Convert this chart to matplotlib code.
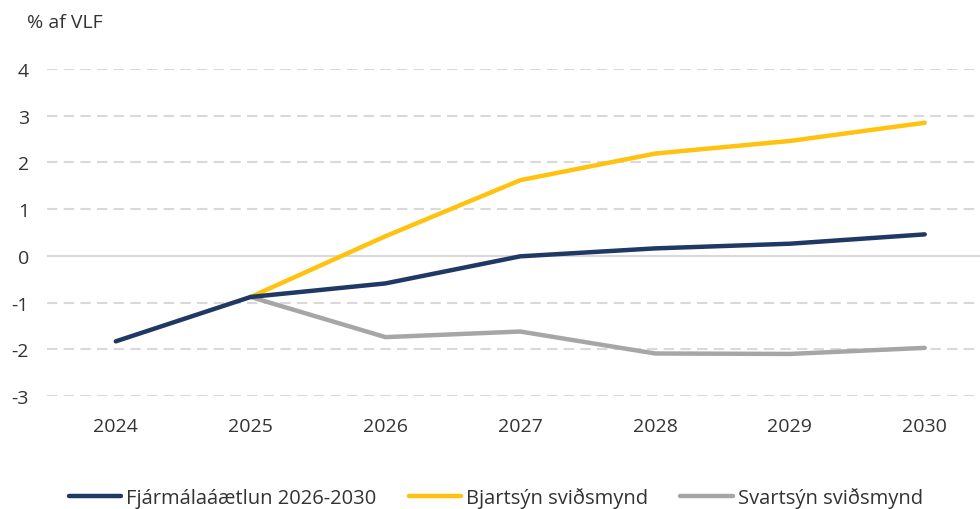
import matplotlib.pyplot as plt

plt.rcParams['font.family'] = ['Open Sans', 'DejaVu Sans']
plt.rcParams['axes.unicode_minus'] = False

ar = ['2024', '2025', '2026', '2027', '2028', '2029', '2030']
fjarmalaaaetlun = [-1.83, -0.88, -0.59, -0.01, 0.16, 0.26, 0.46]
bjartsyn = [None, -0.88, 0.42, 1.62, 2.19, 2.46, 2.85]
svartsyn = [None, -0.88, -1.74, -1.62, -2.09, -2.10, -1.97]

nofn = ['Fjármálaáætlun 2026-2030', 'Bjartsýn sviðsmynd', 'Svartsýn sviðsmynd']
litir = ['#1F3864', '#FFC20E', '#A6A6A6']

fig = plt.figure(figsize=(9.8, 5.1), dpi=100)
ax = fig.add_axes([0.048, 0.2216, 0.952, 0.6411])

x = list(range(len(ar)))
# grindarlinur
for v in range(-3, 5):
    if v == 0:
        ax.axhline(0, color='#d9d9d9', lw=1.5, zorder=1)
    else:
        ax.axhline(v, color='#d9d9d9', lw=1.5, linestyle=(0, (5, 3)), zorder=1)

ax.plot(x[1:], svartsyn[1:], color=litir[2], lw=3.2, solid_capstyle='round', label=nofn[2], zorder=3)
ax.plot(x[1:], bjartsyn[1:], color=litir[1], lw=3.2, solid_capstyle='round', label=nofn[1], zorder=3)
ax.plot(x, fjarmalaaaetlun, color=litir[0], lw=3.2, solid_capstyle='round', label=nofn[0], zorder=4)

ax.set_xlim(-0.51, 6.41)
ax.set_ylim(-3, 4)
ax.set_xticks(x)
ax.set_xticklabels(ar)
ax.set_yticks(range(-3, 5))
ax.tick_params(length=0, labelsize=14, colors='#333333')
ax.tick_params(axis='x', pad=15)
ax.tick_params(axis='y', pad=13)
for s in ax.spines.values():
    s.set_visible(False)

fig.text(0.028, 0.955, '% af VLF', fontsize=14, color='#333333', va='center')

handles, labels = ax.get_legend_handles_labels()
order = [2, 1, 0]
fig.legend([handles[i] for i in order], [labels[i] for i in order],
           loc='center left', bbox_to_anchor=(0.06, 0.022), ncol=3, frameon=False,
           fontsize=14.5, handlelength=2.6, handletextpad=0.25, columnspacing=1.6,
           labelcolor='#333333', borderpad=0.0)

plt.savefig('out.png')
